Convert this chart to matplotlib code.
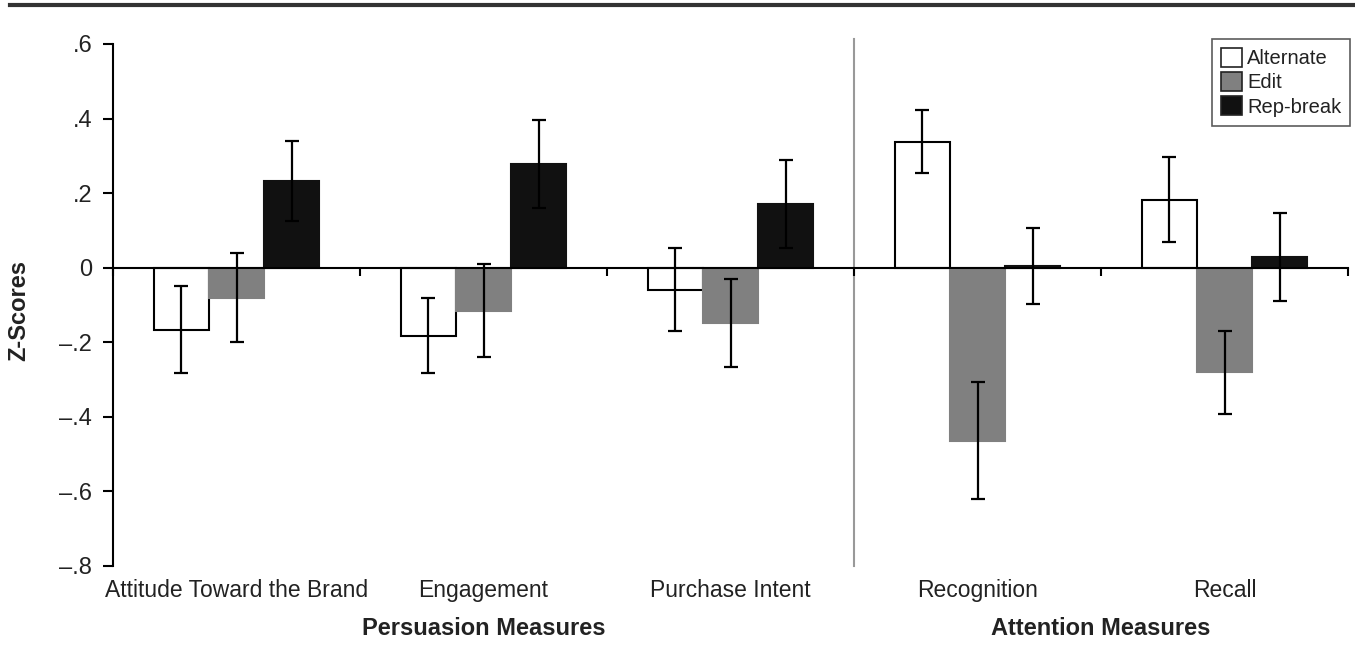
import matplotlib.pyplot as plt
import matplotlib.transforms as mtransforms
from matplotlib.lines import Line2D
import numpy as np

plt.rcParams["font.family"] = ["Liberation Sans", "DejaVu Sans"]

categories = ["Attitude Toward the Brand", "Engagement", "Purchase Intent",
              "Recognition", "Recall"]
series = ["Alternate", "Edit", "Rep-break"]
alternate = [-0.166, -0.182, -0.059, 0.338, 0.182]
edit = [-0.080, -0.115, -0.148, -0.464, -0.281]
rep_break = [0.233, 0.279, 0.172, 0.004, 0.029]
alternate_err = [0.117, 0.100, 0.111, 0.085, 0.114]
edit_err = [0.120, 0.125, 0.119, 0.157, 0.112]
rep_break_err = [0.108, 0.118, 0.118, 0.102, 0.117]
groups = ["Persuasion Measures", "Attention Measures"]
group_members = [[0, 1, 2], [3, 4]]
yticks = [0.6, 0.4, 0.2, 0.0, -0.2, -0.4, -0.6, -0.8]

values = [alternate, edit, rep_break]
errors = [alternate_err, edit_err, rep_break_err]
faces = ["white", "#808080", "#111111"]
edges = ["black", "#808080", "#111111"]

fig = plt.figure(figsize=(13.55, 6.55), dpi=100)
ax = fig.add_axes([113 / 1355, 89 / 655, (1348 - 113) / 1355, (566 - 44) / 655])

w = 0.223
x = np.arange(len(categories)) + 0.5
for k in range(3):
    xs = x + (k - 1) * w
    ax.bar(xs, values[k], width=w, color=faces[k], edgecolor=edges[k],
           linewidth=1.5, label=series[k], zorder=2)
    ax.errorbar(xs, values[k], yerr=errors[k], fmt="none", ecolor="black",
                elinewidth=1.6, capsize=4.8, capthick=1.6, zorder=3)

ax.set_xlim(0, len(categories))
ax.set_ylim(-0.8, 0.6)

for s in ["top", "right"]:
    ax.spines[s].set_visible(False)
ax.spines["bottom"].set_position(("data", 0))
ax.spines["left"].set_linewidth(1.5)
ax.spines["bottom"].set_linewidth(1.5)
ax.spines["left"].set_zorder(4)
ax.spines["bottom"].set_zorder(4)

ax.set_xticks(np.arange(len(categories) + 1))
ax.set_xticklabels([])
ax.tick_params(axis="x", direction="out", length=6, width=1.5)


def fmt(v):
    if v == 0:
        return "0"
    s = f"{abs(v):.1f}".lstrip("0")
    return ("\u2013" if v < 0 else "") + s


ax.set_yticks(yticks)
ax.set_yticklabels([fmt(v) for v in yticks], fontsize=17, color="#222222")
ax.tick_params(axis="y", direction="out", length=7, width=1.5, pad=8)

ax.set_ylabel("Z-Scores", fontsize=17, fontweight="bold", color="#222222")
ax.yaxis.set_label_coords(-83 / 1235, 0.49)

ax.axvline(3, ymin=0, ymax=1.01, color="#999999", linewidth=1.5, zorder=1,
           clip_on=False)

trans = mtransforms.blended_transform_factory(ax.transData, fig.transFigure)
for xi, name in zip(x, categories):
    ax.text(xi, 1 - 597 / 655, name, transform=trans, ha="center", va="baseline",
            fontsize=16.5, color="#222222")
for name, members in zip(groups, group_members):
    xc = np.mean([x[m] for m in members])
    ax.text(xc, 1 - 635 / 655, name, transform=trans, ha="center", va="baseline",
            fontsize=17, fontweight="bold", color="#222222")

leg = ax.legend(loc="upper right", bbox_to_anchor=(1.002, 1.01), fontsize=14.5,
                frameon=True, fancybox=False, edgecolor="#333333",
                handlelength=1.05, handleheight=1.05, handletextpad=0.25,
                labelspacing=0.2, borderpad=0.45, borderaxespad=0)
leg.get_frame().set_linewidth(1.2)
for h in leg.legend_handles:
    h.set_edgecolor("#222222")
    h.set_linewidth(1.2)
for t in leg.get_texts():
    t.set_color("#222222")

fig.add_artist(Line2D([10 / 1355, 1], [1 - 5 / 655, 1 - 5 / 655],
                      transform=fig.transFigure, color="#333333", linewidth=3))

fig.savefig("out.png", dpi=100)
